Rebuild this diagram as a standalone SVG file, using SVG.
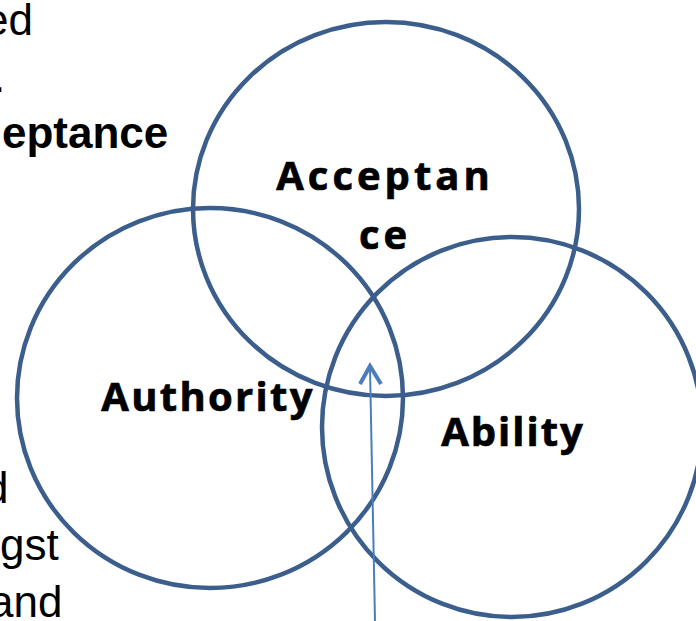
<svg xmlns="http://www.w3.org/2000/svg" width="696" height="621" viewBox="0 0 696 621">
  <style>
    .ring { fill: none; stroke: #3B5E8C; stroke-width: 4.5; }
    .label { font-family: "Open Sans", "DejaVu Sans", sans-serif; font-weight: bold; font-size: 40px; fill: #000; stroke: #000; stroke-width: 0.7; }
    .side { font-family: "Liberation Sans", Arial, sans-serif; font-size: 44px; fill: #000; }
    .pointer { fill: none; stroke: #4A7EBB; stroke-linecap: butt; }
  </style>

  <!-- clipped body text at the left edge -->
  <g id="side-text">
    <text class="side" x="-16" y="35">ed</text>
    <text class="side" x="-7" y="92">.</text>
    <text class="side" x="2" y="148" font-size="44.5" font-weight="bold">eptance</text>
    <text class="side" x="-16" y="503">d</text>
    <text class="side" x="0" y="560">gst</text>
    <text class="side" x="-11" y="617">and</text>
  </g>

  <g id="acceptance">
    <ellipse class="ring" cx="386" cy="209" rx="193" ry="187"/>
    <text class="label" x="385" y="190" text-anchor="middle" letter-spacing="4">Acceptan</text>
    <text class="label" x="385" y="249" text-anchor="middle" letter-spacing="4">ce</text>
  </g>

  <g id="authority">
    <ellipse class="ring" cx="210" cy="398" rx="193" ry="190"/>
    <text class="label" x="208" y="411" text-anchor="middle" letter-spacing="2.3">Authority</text>
  </g>

  <g id="ability">
    <circle class="ring" cx="512" cy="427" r="190"/>
    <text class="label" x="513" y="446" text-anchor="middle" letter-spacing="2">Ability</text>
  </g>

  <g id="connectors">
    <line class="pointer" x1="375" y1="621" x2="370" y2="368" stroke-width="2"/>
    <polyline class="pointer" points="360,384 370,366 381,384" stroke-width="4"/>
  </g>
</svg>
